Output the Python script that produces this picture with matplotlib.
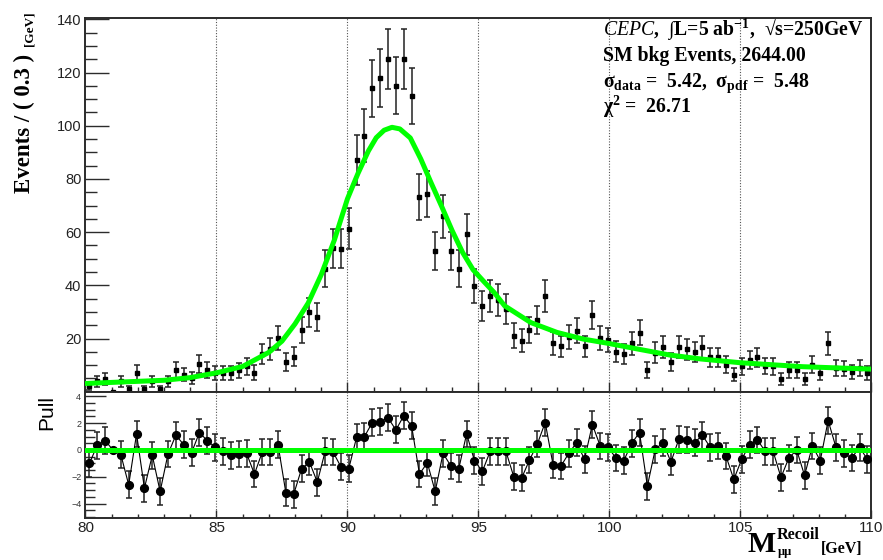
import numpy as np
import matplotlib as mpl
mpl.use('Agg')
import matplotlib.pyplot as plt
from matplotlib.ticker import MultipleLocator

green = '#00ff00'
frame_grey = '#2b2b2b'
grid_grey = '#555555'

serif = 'Liberation Serif'
sans = 'Liberation Sans'

# histogram range and binning (0.3 GeV bins)
x_lo = 80.0
x_hi = 110.0
bin_width = 0.3

# events per bin
events = [2.0, 3.9, 4.9, 0.0, 3.9, 1.0, 7.2, 1.0, 3.9, 1.0,
          3.9, 8.2, 6.4, 5.1, 10.4, 8.2, 7.0, 7.0, 7.0, 8.0,
          9.5, 7.2, 14.1, 16.1, 20.1, 11.1, 13.2, 23.2, 29.8, 28.0,
          46.3, 54.0, 53.8, 61.3, 87.2, 96.3, 114.0, 117.9, 125.0, 115.0,
          125.0, 111.2, 73.2, 74.2, 52.9, 65.9, 52.9, 46.3, 59.2, 39.8,
          32.2, 36.1, 34.5, 31.0, 21.1, 19.2, 23.2, 27.0, 36.1, 18.2,
          17.0, 20.5, 23.0, 17.0, 28.8, 20.1, 19.5, 15.1, 14.1, 18.2,
          22.2, 8.2, 14.7, 16.7, 11.1, 16.7, 16.0, 14.9, 16.7, 13.0,
          13.0, 10.1, 6.4, 9.5, 12.0, 13.0, 9.6, 9.5, 4.9, 8.2,
          8.2, 4.9, 10.1, 7.0, 18.2, 9.0, 8.7, 7.4, 9.0, 7.0]

# pulls per bin
pulls = [-1.0, 0.35, 0.7, 0.0, -0.35, -2.6, 1.2, -2.85, -0.4, -3.1,
         -0.3, 1.1, 0.4, -0.2, 1.3, 0.7, 0.2, -0.1, -0.4, -0.3,
         -0.25, -1.8, -0.15, -0.15, 0.4, -3.2, -3.3, -1.4, -0.9, -2.4,
         -0.1, -0.15, -1.25, -1.4, 0.95, 1.0, 2.05, 2.1, 2.4, 1.5,
         2.55, 1.8, -1.8, -0.95, -3.1, -0.25, -1.2, -1.4, 1.2, -0.8,
         -1.6, -0.1, -0.1, -0.1, -2.0, -2.1, -0.75, 0.45, 2.05, -1.1,
         -1.2, -0.25, 0.55, -0.7, 1.9, 0.3, 0.2, -0.6, -0.8, 0.5,
         1.3, -2.7, 0.05, 0.55, -0.9, 0.8, 0.75, 0.55, 1.1, 0.2,
         0.3, -0.45, -2.2, -0.7, 0.4, 0.75, -0.1, -0.1, -2.05, -0.6,
         0.0, -1.9, 0.3, -0.8, 2.2, 0.2, -0.25, -0.6, 0.2, -0.7]

# fitted pdf, sampled along the green curve
fit_mass = [80.0, 81.5, 83.0, 84.0, 85.0, 86.0, 87.0, 87.5, 88.0, 88.5,
            89.0, 89.5, 90.0, 90.4, 90.8, 91.1, 91.4, 91.7, 92.0, 92.4,
            92.8, 93.2, 93.6, 94.0, 94.4, 94.8, 95.2, 95.6, 96.0, 97.0,
            98.0, 99.0, 100.0, 101.0, 102.3, 103.5, 105.0, 107.4, 110.0]
fit_events = [3.1, 3.7, 4.3, 5.3, 7.1, 9.5, 14.8, 19.0, 25.5, 33.3,
              44.0, 57.0, 72.5, 82.0, 90.5, 95.5, 98.3, 99.4, 98.8, 95.4,
              87.5, 78.4, 69.6, 60.5, 52.3, 45.8, 41.5, 37.3, 32.3, 26.0,
              22.3, 19.8, 18.1, 16.2, 13.8, 12.3, 10.9, 9.4, 8.5]

header = [r'$\mathit{CEPC}$,  ∫L=5 ab$^{-1}$,  √s=250GeV',
          'SM bkg Events, 2644.00',
          r'$σ_{data}$ =  5.42,  $σ_{pdf}$ =  5.48',
          r'$χ^{2}$ =  26.71']

mpl.rcParams.update({
    'mathtext.fontset': 'custom',
    'mathtext.rm': serif + ':bold',
    'mathtext.bf': serif + ':bold',
    'mathtext.it': serif + ':italic',
    'mathtext.default': 'bf',
    'axes.linewidth': 1.4,
    'axes.edgecolor': frame_grey,
})


def style_axis(ax, ylen, xlen):
    ax.tick_params(which='both', direction='in', top=False, right=False,
                   color=frame_grey, width=1.0)
    ax.tick_params(axis='y', which='major', length=ylen)
    ax.tick_params(axis='y', which='minor', length=ylen / 2)
    ax.tick_params(axis='x', which='major', length=xlen)
    ax.tick_params(axis='x', which='minor', length=xlen / 2)
    ax.xaxis.set_major_locator(MultipleLocator(5))
    ax.xaxis.set_minor_locator(MultipleLocator(1))
    for v in np.arange(x_lo + 5, x_hi, 5):
        ax.axvline(v, color=grid_grey, ls=(0, (1, 1.5)), lw=0.8, zorder=1)
    ax.set_xlim(x_lo, x_hi)


events = np.array(events)
centers = x_lo + bin_width * (np.arange(len(events)) + 0.5)
errors = np.sqrt(events)
pull_err = np.where(events > 0, 1.0, 0.0)

fig = plt.figure(figsize=(8.83, 5.6), dpi=100)
ax = fig.add_axes([0.0968, 0.3005, 0.890, 0.6674])
axp = fig.add_axes([0.0968, 0.0745, 0.890, 0.2260])

# main panel
ax.errorbar(centers, events, yerr=errors, fmt='s', ms=3.2, color='black',
            ecolor='#222222', elinewidth=1.1, capsize=2.2, capthick=1.1, zorder=3)
ax.plot(fit_mass, fit_events, color=green, lw=3.6, solid_joinstyle='round',
        solid_capstyle='round', zorder=4)
style_axis(ax, 17, 7)
ax.set_ylim(0, 140.5)
ax.yaxis.set_minor_locator(MultipleLocator(5))
yt = np.arange(0, 141, 20)
ax.set_yticks(yt)
ax.set_yticklabels(['' if v == 0 else str(v) for v in yt], family=sans,
                   fontsize=10.5, color='#222222')
ax.tick_params(axis='y', pad=3)
ax.tick_params(labelbottom=False)

for i, line in enumerate(header):
    fig.text(603 / 883, 1 - (36 + 25.5 * i) / 560, line, family=serif,
             fontweight='bold', fontsize=14.2, va='baseline', ha='left')

fig.text(24 / 883, 1 - 193 / 560, 'Events / ( 0.3 )', rotation=90, family=serif,
         fontweight='bold', fontsize=16.5, ha='center', va='bottom')
fig.text(29.5 / 883, 1 - 46 / 560, '[GeV]', rotation=90, family=serif,
         fontweight='bold', fontsize=9.5, ha='center', va='bottom')

# pull panel
axp.errorbar(centers, pulls, yerr=pull_err, fmt='o-', ms=5.6, color='black',
             lw=0.8, ecolor='#222222', elinewidth=1.1, capsize=2.2,
             capthick=1.1, zorder=3)
axp.axhline(0, color=green, lw=3.6, zorder=4)
style_axis(axp, 15, 6)
axp.set_ylim(-5.1, 4.35)
axp.yaxis.set_major_locator(MultipleLocator(2))
axp.yaxis.set_minor_locator(MultipleLocator(0.5))
axp.tick_params(axis='y', labelsize=6.5, pad=3, labelcolor='#333333')
axp.tick_params(axis='x', labelsize=11, pad=2, labelcolor='#222222')
for lab in axp.get_xticklabels() + axp.get_yticklabels():
    lab.set_family(sans)

fig.text(47 / 883, 1 - 412 / 560, 'Pull', rotation=90, family=sans,
         fontsize=15, ha='center', va='center')

# x axis title
fig.text(748 / 883, 1 - 552 / 560, 'M', family=serif, fontweight='bold',
         fontsize=21.5, va='baseline', ha='left')
fig.text(777 / 883, 1 - 539 / 560, 'Recoil', family=serif, fontweight='bold',
         fontsize=11.6, va='baseline', ha='left')
fig.text(778 / 883, 1 - 555 / 560, 'μμ', family=serif, fontweight='bold',
         fontsize=9, va='baseline', ha='left')
fig.text(821 / 883, 1 - 553 / 560, '[GeV]', family=serif, fontweight='bold',
         fontsize=11.5, va='baseline', ha='left')

fig.savefig('out.png', dpi=100)
